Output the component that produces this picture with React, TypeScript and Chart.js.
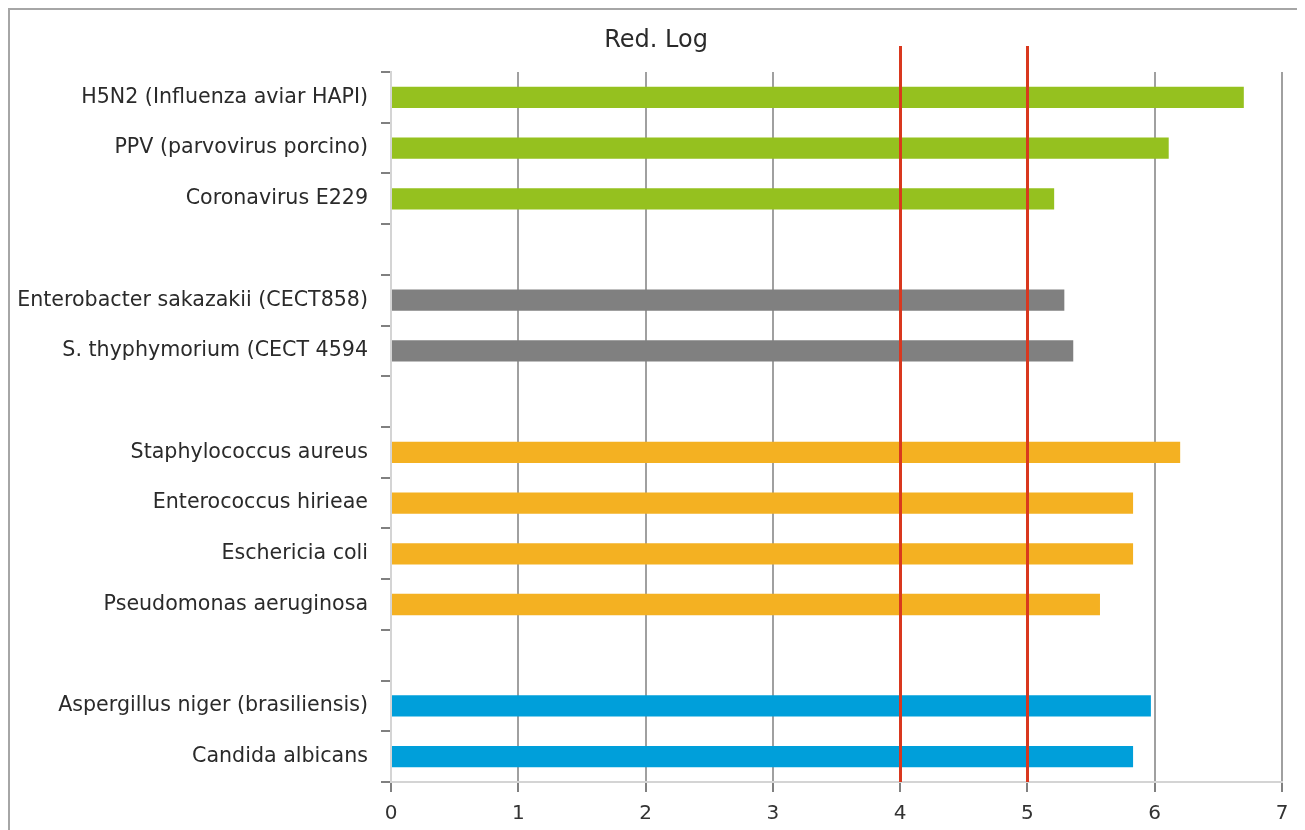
import React, { useEffect, useRef } from "react";
import { Chart, registerables } from "chart.js";

Chart.register(...registerables);

const categories: string[] = [
  "H5N2 (Influenza aviar HAPI)",
  "PPV (parvovirus porcino)",
  "Coronavirus E229",
  "",
  "Enterobacter sakazakii (CECT858)",
  "S. thyphymorium (CECT 4594",
  "",
  "Staphylococcus aureus",
  "Enterococcus hirieae",
  "Eschericia coli",
  "Pseudomonas aeruginosa",
  "",
  "Aspergillus niger (brasiliensis)",
  "Candida albicans",
];

const logReduction: (number | null)[] = [
  6.7, 6.11, 5.21, null, 5.29, 5.36, null, 6.2, 5.83, 5.83, 5.57, null, 5.97, 5.83,
];

const barColors: string[] = [
  "#95C11F", "#95C11F", "#95C11F", "#95C11F",
  "#808080", "#808080", "#808080",
  "#F4B122", "#F4B122", "#F4B122", "#F4B122", "#F4B122",
  "#009FDA", "#009FDA",
];

const thresholds: number[] = [4, 5];
const xTicks = { min: 0, max: 7, step: 1 };
const titleText = "Red. Log";

const FONT = "'DejaVu Sans', sans-serif";

const thresholdPlugin = {
  id: "thresholdLines",
  afterDatasetsDraw(chart: any) {
    const { ctx, chartArea, scales } = chart;
    ctx.save();
    ctx.strokeStyle = "#D9381E";
    ctx.lineWidth = 3;
    thresholds.forEach((v) => {
      const x = Math.round(scales.x.getPixelForValue(v)) + 0.5;
      ctx.beginPath();
      ctx.moveTo(x, 36);
      ctx.lineTo(x, chartArea.bottom);
      ctx.stroke();
    });
    ctx.restore();
  },
};

const titlePlugin = {
  id: "centeredTitle",
  afterDraw(chart: any) {
    const { ctx } = chart;
    ctx.save();
    ctx.fillStyle = "#2a2a2a";
    ctx.font = `24px ${FONT}`;
    ctx.textAlign = "center";
    ctx.textBaseline = "middle";
    ctx.fillText(titleText, chart.width / 2, 31);
    ctx.restore();
  },
};

export default function App() {
  const ref = useRef<HTMLCanvasElement | null>(null);
  useEffect(() => {
    if (!ref.current) return;
    const chart = new Chart(ref.current, {
      type: "bar",
      data: {
        labels: categories,
        datasets: [
          {
            data: logReduction,
            backgroundColor: barColors,
            borderWidth: 0,
            categoryPercentage: 1,
            barPercentage: 0.42,
          },
        ],
      },
      options: {
        indexAxis: "y",
        responsive: false,
        animation: false,
        layout: { padding: { top: 62, right: 20, bottom: 0, left: 0 } },
        plugins: {
          legend: { display: false },
          tooltip: { enabled: false },
          title: { display: false },
        },
        scales: {
          x: {
            type: "linear",
            min: xTicks.min,
            max: xTicks.max,
            afterFit(scale: any) {
              scale.height = 58;
            },
            ticks: {
              stepSize: xTicks.step,
              color: "#333",
              font: { family: FONT, size: 20 },
              padding: 10,
            },
            grid: {
              color: (c: any) => (c.tick && c.tick.value === 0 ? "#d4d4d4" : "#a0a0a0"),
              lineWidth: 2,
              tickColor: "#808080",
              tickLength: 10,
            },
            border: { display: true, color: "#d4d4d4", width: 2 },
          },
          y: {
            type: "category",
            afterFit(scale: any) {
              scale.width = 381;
            },
            ticks: {
              color: "#2a2a2a",
              font: { family: FONT, size: 20.6 },
              padding: 13,
              autoSkip: false,
            },
            grid: {
              drawOnChartArea: false,
              drawTicks: true,
              tickLength: 10,
              tickColor: "#808080",
              lineWidth: 2,
            },
            border: { display: true, color: "#d4d4d4", width: 2 },
          },
        },
      },
      plugins: [thresholdPlugin, titlePlugin],
    } as any);
    return () => chart.destroy();
  }, []);

  return (
    <div
      style={{
        width: 1296,
        height: 840,
        boxSizing: "border-box",
        border: "2px solid #a6a6a6",
        background: "#fff",
      }}
    >
      <canvas ref={ref} width={1292} height={830} style={{ display: "block" }} />
    </div>
  );
}
